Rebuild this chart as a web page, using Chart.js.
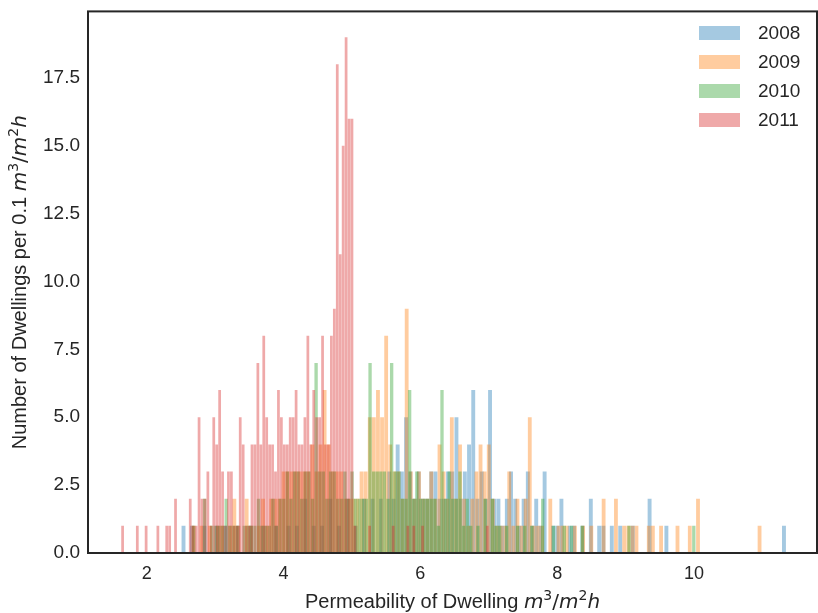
<!DOCTYPE html>
<html>
<head>
<meta charset="utf-8">
<script src="https://cdn.jsdelivr.net/npm/chart.js@4.4.1/dist/chart.umd.min.js"></script>
<style>
  html, body { margin: 0; padding: 0; background: #fff; }
  #wrap { width: 818px; height: 613px; }
</style>
</head>
<body>
<div id="wrap"><canvas id="chart" width="818" height="613"></canvas></div>
<script>
// histogram counts per bin, one array per survey year
// each year has its own bin grid: left edge of the first bin + bin width
const years = ['2008', '2009', '2010', '2011'];

const binStart2008 = 2.506, binWidth2008 = 0.0614;
const counts2008 = [
  1,0,1,0,0,1,0,0,1,0,  1,0,0,1,0,0,1,0,0,1,
  0,0,1,0,0,1,0,1,0,2,  0,1,0,1,0,2,0,1,0,2,
  0,1,0,2,0,2,0,2,0,3,  2,4,3,5,3,2,3,2,2,3,
  3,2,2,3,3,5,2,3,4,6,  2,3,2,6,2,2,1,2,3,2,
  1,2,3,1,2,1,3,0,1,1,  2,0,1,1,0,1,0,2,0,1,
  1,0,1,0,1,0,0,1,0,0,  0,2,0,0,0,1,0,0,0,0,
  0,0,0,0,0,0,0,0,0,0,  0,0,0,0,0,0,0,0,0,0,
  0,0,0,1
];

const binStart2009 = 2.47, binWidth2009 = 0.06;
const counts2009 = [
  0,0,0,1,0,1,0,1,0,1,  1,0,1,2,1,0,2,1,0,1,
  2,1,2,2,2,3,3,3,3,3,  3,3,4,3,4,6,4,3,3,3,
  2,2,2,2,3,3,5,5,6,5,  8,4,3,3,2,9,3,2,3,2,
  2,3,2,4,3,2,5,2,4,2,  1,2,3,4,3,4,2,1,1,1,
  3,1,2,1,2,5,1,1,1,0,  2,0,1,1,1,0,1,0,1,0,
  1,0,0,2,0,0,2,0,1,1,  1,1,0,0,1,1,0,1,0,0,
  0,1,0,0,1,0,2,0,0,0,  0,0,0,0,0,0,0,0,0,0,
  0,1
];

const binStart2010 = 2.503, binWidth2010 = 0.0526;
const counts2010 = [
  0,0,0,1,0,0,2,0,1,1,  1,1,2,1,1,1,0,1,1,1,
  1,2,1,1,1,2,1,2,2,3,  2,3,3,2,3,3,2,7,3,3,
  2,3,3,2,2,3,2,3,2,2,  2,2,7,3,3,3,3,2,7,3,
  3,2,2,6,2,3,2,2,2,2,  2,1,6,2,3,2,2,3,1,2,
  1,0,1,0,2,0,2,1,1,0,  1,0,0,1,0,1,0,1,0,0,
  2,0,0,1,0,0,1,0,1,0,  0,1,0,0,0,0,0,0,0,0,
  0,0,0,0,1,0,0,0,0,0,  0,0,0,0,0,0,0,0,0,0,
  0,0,1
];

const binStart2011 = 1.6245, binWidth2011 = 0.043;
const counts2011 = [
  1,0,0,0,0,1,0,0,1,0,  0,0,1,0,0,1,1,0,2,0,
  0,0,0,2,1,1,5,2,2,3,  1,5,4,6,3,1,3,3,1,1,
  5,4,1,1,4,4,7,4,8,5,  4,4,3,6,5,4,4,5,5,6,
  4,4,5,8,4,6,5,5,8,4,  4,8,9,18,11,15,19,16,16,1,
  0,0,0,0,1,0,0,0,0,0,  0,0,1,0,0,0,0,1,0,1,
  0,0,1,0,0,0,0,0,0,0,  0,0,0,0,0,0,0,0,0,0,
  0,0,0,0,1
];

const xTicks = [2, 4, 6, 8, 10];
const yTicks = [0, 2.5, 5, 7.5, 10, 12.5, 15, 17.5];

const colors = ['31,119,180', '255,127,14', '44,160,44', '214,39,40'];
const ink = '#262626';
const sans = "'Liberation Sans', Arial, sans-serif";
const mathFont = "'DejaVu Sans', sans-serif";
const X_MIN = 1.14, X_MAX = 11.8, Y_MAX = 19.95;

function toPoints(start, width, counts) {
  return counts.map((n, i) => ({ x: start + (i + 0.5) * width, y: n }));
}

const series = [
  toPoints(binStart2008, binWidth2008, counts2008),
  toPoints(binStart2009, binWidth2009, counts2009),
  toPoints(binStart2010, binWidth2010, counts2010),
  toPoints(binStart2011, binWidth2011, counts2011)
];

// every year gets its own (hidden) x scale so bar widths follow its own bin spacing
const axisIds = ['x08', 'x09', 'x10', 'x'];

const datasets = series.map((pts, i) => ({
  label: years[i],
  data: pts,
  xAxisID: axisIds[i],
  backgroundColor: 'rgba(' + colors[i] + ',0.4)',
  borderWidth: 0,
  grouped: false,
  barPercentage: 1,
  categoryPercentage: 0.93,
  order: 3 - i
}));

function hiddenX() {
  return { type: 'linear', min: X_MIN, max: X_MAX, offset: false, display: false };
}

// text runs: [string, kind]  n = upright, i = italic math, m = upright math, s = superscript
function runFont(kind, size) {
  if (kind === 'i') return 'italic ' + size + 'px ' + mathFont;
  if (kind === 's') return Math.round(size * 0.7) + 'px ' + mathFont;
  if (kind === 'm') return size + 'px ' + mathFont;
  return size + 'px ' + sans;
}

function drawRuns(ctx, runs, cx, baseline, size) {
  let total = 0;
  runs.forEach(r => { ctx.font = runFont(r[1], size); total += ctx.measureText(r[0]).width; });
  let x = cx - total / 2;
  ctx.textAlign = 'left';
  ctx.textBaseline = 'alphabetic';
  runs.forEach(r => {
    ctx.font = runFont(r[1], size);
    const dy = r[1] === 's' ? -size * 0.42 : 0;
    ctx.fillText(r[0], x, baseline + dy);
    x += ctx.measureText(r[0]).width;
  });
}

const unitRuns = [['m', 'i'], ['3', 's'], ['/', 'm'], ['m', 'i'], ['2', 's'], ['h', 'i']];
const xTitle = [['Permeability of Dwelling ', 'n']].concat(unitRuns);
const yTitle = [['Number of Dwellings per 0.1 ', 'n']].concat(unitRuns);

const decorations = {
  id: 'decorations',
  afterDraw(chart) {
    const ctx = chart.ctx;
    const a = chart.chartArea;
    ctx.save();
    ctx.fillStyle = ink;

    // axis titles
    drawRuns(ctx, xTitle, (a.left + a.right) / 2, 608, 20);
    ctx.save();
    ctx.translate(26, (a.top + a.bottom) / 2);
    ctx.rotate(-Math.PI / 2);
    drawRuns(ctx, yTitle, 0, 0, 20);
    ctx.restore();

    // legend, top right inside the axes
    ctx.font = '19px ' + sans;
    ctx.textAlign = 'left';
    ctx.textBaseline = 'middle';
    chart.data.datasets.forEach((ds, i) => {
      const cy = 33 + i * 29;
      ctx.fillStyle = ds.backgroundColor;
      ctx.fillRect(699, cy - 7, 41, 14);
      ctx.fillStyle = ink;
      ctx.fillText(ds.label, 758, cy + 1);
    });

    // frame
    ctx.strokeStyle = ink;
    ctx.lineWidth = 2;
    ctx.strokeRect(a.left, a.top, a.right - a.left, a.bottom - a.top);
    ctx.restore();
  }
};

new Chart(document.getElementById('chart'), {
  type: 'bar',
  data: { datasets },
  options: {
    responsive: false,
    animation: false,
    devicePixelRatio: 1,
    layout: { padding: { top: 8, right: 1, left: 0, bottom: 0 } },
    plugins: { legend: { display: false }, tooltip: { enabled: false } },
    scales: {
      x: {
        type: 'linear',
        min: X_MIN,
        max: X_MAX,
        offset: false,
        grid: { display: false },
        border: { display: false },
        afterFit: s => { s.height = 60; },
        afterBuildTicks: s => { s.ticks = xTicks.map(v => ({ value: v })); },
        ticks: { color: ink, font: { family: sans, size: 18 }, padding: 2, callback: v => String(v) }
      },
      x08: hiddenX(),
      x09: hiddenX(),
      x10: hiddenX(),
      y: {
        min: 0,
        max: Y_MAX,
        grid: { display: false },
        border: { display: false },
        afterFit: s => { s.width = 88; },
        afterBuildTicks: s => { s.ticks = yTicks.map(v => ({ value: v })); },
        ticks: { color: ink, font: { family: sans, size: 19 }, padding: 0, callback: v => v.toFixed(1) }
      }
    }
  },
  plugins: [decorations]
});
</script>
</body>
</html>
